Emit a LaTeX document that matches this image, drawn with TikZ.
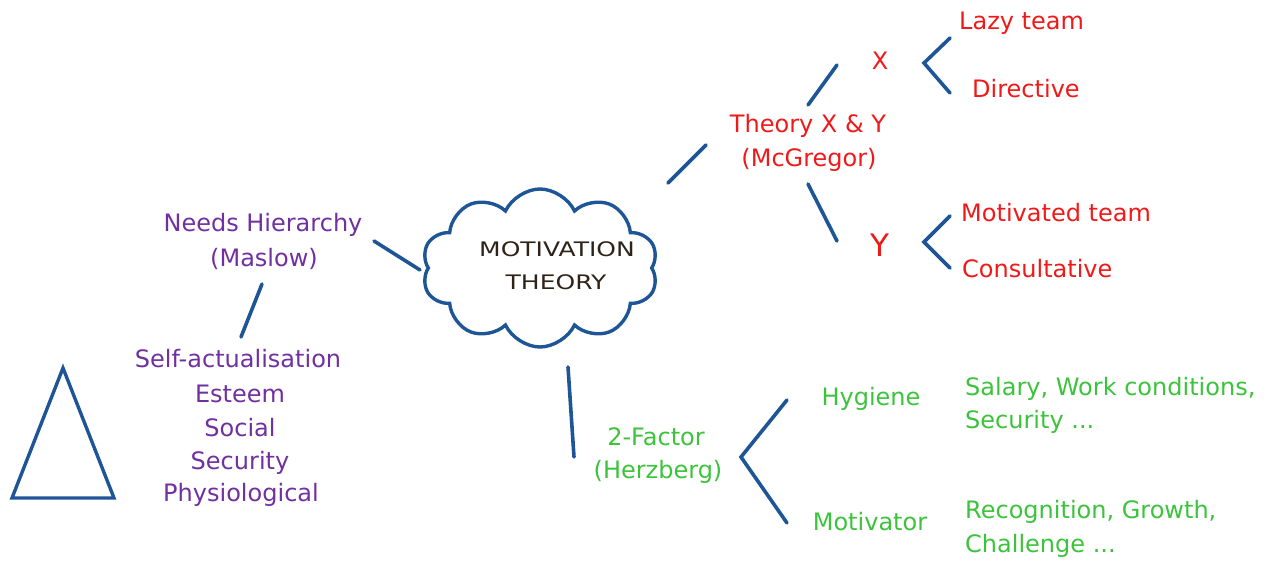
\documentclass[tikz,border=0pt]{standalone}
\usepackage{fontspec}
\setmainfont{DejaVu Sans}
\newfontfamily\widefont[FakeStretch=1.25]{DejaVu Sans}
\usetikzlibrary{shapes.symbols}
\definecolor{lineblue}{RGB}{30,85,150}
\definecolor{xred}{RGB}{240,25,25}
\definecolor{mpurple}{RGB}{112,48,160}
\definecolor{hgreen}{RGB}{60,195,60}
\definecolor{ink}{RGB}{45,35,25}
\begin{document}
\begin{tikzpicture}[x=1pt,y=-1pt,
  conn/.style={draw=lineblue, line width=3.6pt, line cap=round},
  lbl/.style={anchor=base, inner sep=0pt, font=\fontsize{24}{28}\selectfont},
  redlbl/.style={lbl, text=xred},
  purplbl/.style={lbl, text=mpurple},
  grnlbl/.style={lbl, text=hgreen},
  cloudlbl/.style={anchor=base, inner sep=0pt, text=ink, font=\widefont\fontsize{20}{24}\selectfont}]
\useasboundingbox (0,0) rectangle (1287,561);

% central cloud
\node[cloud, cloud puffs=10, cloud puff arc=130, cloud ignores aspect,
      draw=lineblue, line width=3.4pt, minimum width=236pt, minimum height=158pt,
      inner sep=0pt] (cloud) at (540,268) {};
\node[cloudlbl] (mot) at (557,257) {MOTIVATION};
\node[cloudlbl] (the) at (556,290) {THEORY};

% Maslow branch
\node[purplbl] (needs) at (263,232) {Needs Hierarchy};
\node[purplbl] (maslow) at (264,266) {(Maslow)};
\node[purplbl] (self) at (238,367) {Self-actualisation};
\node[purplbl] (esteem) at (240,402) {Esteem};
\node[purplbl] (social) at (240,436) {Social};
\node[purplbl] (secur) at (240,469) {Security};
\node[purplbl] (phys) at (241,501) {Physiological};

\coordinate (mA) at (374,241);
\coordinate (mB) at (420,270);
\coordinate (mC) at (262,284);
\coordinate (mD) at (241,337);
\draw[conn] (mA) -- (mB);
\draw[conn] (mC) -- (mD);

\coordinate (tA) at (63,368);
\coordinate (tB) at (12,498);
\coordinate (tC) at (114,498);
\draw[draw=lineblue, line width=3.4pt, line join=miter] (tA) -- (tB) -- (tC) -- cycle;

% McGregor branch
\node[redlbl] (theory) at (808,133) {Theory X \& Y};
\node[redlbl] (mcg) at (809,167) {(McGregor)};
\node[redlbl] (x) at (880,70) {X};
\node[redlbl, font=\fontsize{31}{34}\selectfont] (y) at (880,257) {Y};
\node[redlbl, anchor=base west] (lazy) at (959,30) {Lazy team};
\node[redlbl, anchor=base west] (direct) at (972,98) {Directive};
\node[redlbl, anchor=base west] (motteam) at (961,222) {Motivated team};
\node[redlbl, anchor=base west] (consult) at (962,277) {Consultative};

\coordinate (cA) at (668,183);
\coordinate (cB) at (706,145);
\draw[conn] (cA) -- (cB);
\coordinate (xA) at (808,105);
\coordinate (xB) at (837,65);
\draw[conn] (xA) -- (xB);
\coordinate (yA) at (808,184);
\coordinate (yB) at (837,241);
\draw[conn] (yA) -- (yB);
\coordinate (xbT) at (950,38);
\coordinate (xbM) at (924,63);
\coordinate (xbB) at (950,93);
\draw[conn, line join=miter] (xbT) -- (xbM) -- (xbB);
\coordinate (ybT) at (950,216);
\coordinate (ybM) at (924,242);
\coordinate (ybB) at (950,268);
\draw[conn, line join=miter] (ybT) -- (ybM) -- (ybB);

% Herzberg branch
\node[grnlbl] (two) at (656,445) {2-Factor};
\node[grnlbl] (herz) at (658,478) {(Herzberg)};
\node[grnlbl] (hyg) at (871,405) {Hygiene};
\node[grnlbl] (motiv) at (870,530) {Motivator};
\node[grnlbl, anchor=base west] (sal) at (965,395) {Salary, Work conditions,};
\node[grnlbl, anchor=base west] (sec) at (965,428) {Security ...};
\node[grnlbl, anchor=base west] (rec) at (965,518) {Recognition, Growth,};
\node[grnlbl, anchor=base west] (chal) at (965,552) {Challenge ...};

\coordinate (bA) at (568,367);
\coordinate (bB) at (574,457);
\draw[conn] (bA) -- (bB);
\coordinate (hbT) at (787,400);
\coordinate (hbM) at (741,457);
\coordinate (hbB) at (787,523);
\draw[conn, line join=miter] (hbT) -- (hbM) -- (hbB);
\end{tikzpicture}
\end{document}
